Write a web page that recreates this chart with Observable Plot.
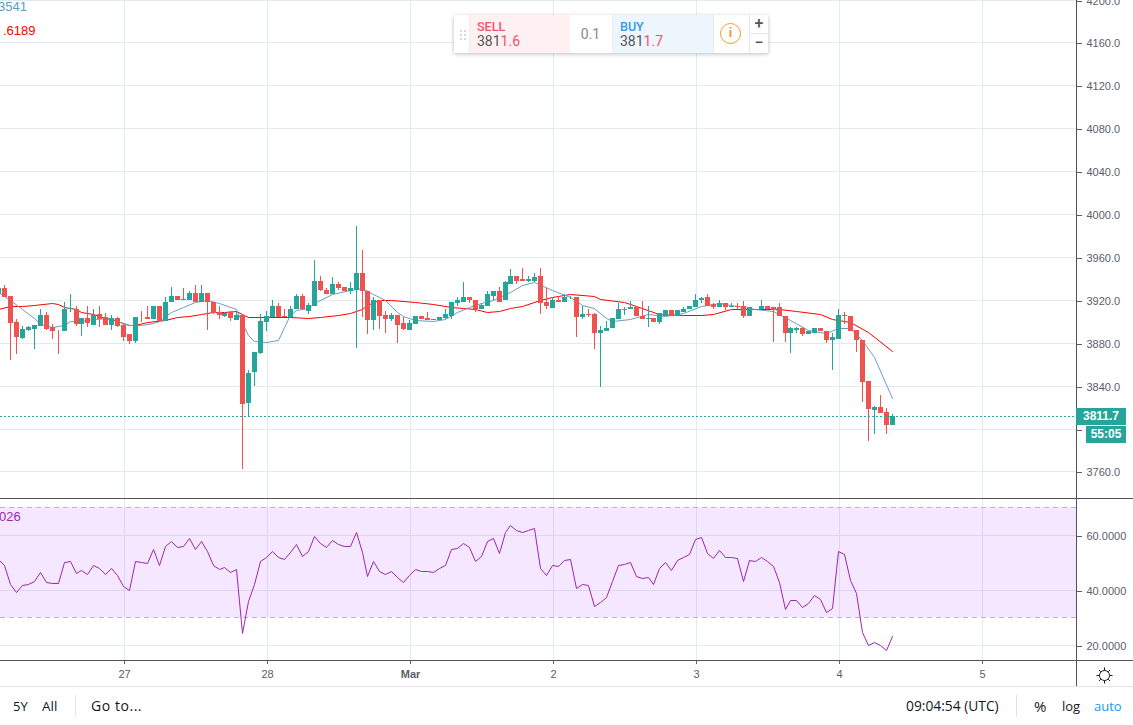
<!DOCTYPE html>
<html>
<head>
<meta charset="utf-8">
<script src="https://cdn.jsdelivr.net/npm/d3@7"></script>
<script src="https://cdn.jsdelivr.net/npm/@observablehq/plot@0.6"></script>
<style>
html,body{margin:0;padding:0;background:#fff;overflow:hidden}
#root{position:relative;width:1133px;height:725px;overflow:hidden;font-family:"Liberation Sans",Arial,sans-serif}
#root svg{position:absolute;left:0;background:transparent}
.abs{position:absolute;white-space:nowrap}
.line{position:absolute}
.tb{position:absolute;top:697px;font:13px "Open Sans",sans-serif;color:#131722;line-height:18px}
.w{position:absolute;top:15px;height:38px;box-sizing:border-box;font:14px/15px "Roboto",sans-serif}
</style>
</head>
<body>
<div id="root"></div>
<script>
// Hours counted from 27 Feb 00:00 UTC
const startHour = -21;
const missingHour = 106;
const opens = [
3925.0,3930.6,3924.0,3899.8,3884.8,3892.3,3893.2,3896.0,3906.3,3894.8,
3892.3,3891.4,3911.0,3911.0,3897.9,3903.5,3897.0,3907.2,3904.4,3897.0,
3903.5,3897.0,3888.6,3882.0,3904.4,3904.1,3902.6,3914.7,3900.7,3918.4,
3924.0,3921.2,3919.4,3926.8,3918.4,3926.8,3918.4,3909.1,3905.4,3909.1,
3901.6,3906.3,3824.2,3853.1,3870.8,3899.8,3904.4,3914.7,3905.4,3904.4,
3911.0,3924.0,3910.0,3914.7,3938.0,3929.6,3925.9,3935.2,3932.4,3928.7,
3929.6,3944.6,3927.8,3901.6,3919.4,3906.3,3902.6,3906.3,3898.8,3892.3,
3897.9,3905.4,3903.5,3902.6,3901.6,3903.5,3905.4,3917.5,3918.4,3923.1,
3920.3,3911.9,3914.7,3924.0,3928.7,3920.3,3935.2,3941.8,3939.0,3938.0,
3938.0,3942.7,3918.4,3912.8,3920.3,3918.4,3922.2,3923.1,3904.4,3907.2,
3907.2,3889.5,3891.4,3893.3,3902.6,3910.1,3911.0,3912.9,3905.4,3902.6,
3903.5,3899.8,3905.4,3910.1,3905.4,3909.1,3911.0,3912.9,3919.4,3923.1,
3915.7,3912.9,3917.5,3912.9,3914.7,3913.8,3904.5,null,3911.9,3914.7,
3912.9,3912.9,3905.4,3889.5,3892.3,3893.3,3888.6,3889.5,3893.3,3891.4,
3883.0,3883.9,3906.3,3904.5,3892.3,3883.0,3844.7,3817.6,3820.4,3815.8,3803.6];
const closes = [
3930.6,3923.1,3898.2,3885.1,3893.2,3894.5,3897.0,3906.3,3893.2,3891.4,
3891.7,3911.0,3912.8,3897.9,3903.5,3898.8,3906.3,3902.6,3897.0,3903.5,
3896.0,3885.8,3882.0,3904.4,3903.8,3902.6,3914.7,3900.7,3918.4,3924.0,
3919.4,3919.4,3926.8,3918.4,3926.8,3918.4,3908.2,3906.3,3908.2,3903.5,
3906.3,3823.2,3852.2,3871.8,3900.7,3905.4,3914.7,3904.4,3904.4,3911.9,
3924.0,3911.0,3915.6,3938.0,3929.6,3925.0,3935.2,3930.6,3928.7,3931.5,
3944.6,3927.8,3901.6,3919.4,3905.4,3902.6,3906.3,3897.0,3893.2,3898.8,
3905.4,3902.6,3901.6,3901.6,3904.4,3907.2,3918.4,3919.4,3923.1,3919.4,
3911.9,3915.6,3925.0,3928.7,3918.4,3936.2,3941.8,3938.0,3938.0,3939.0,
3940.9,3917.5,3913.8,3920.3,3918.4,3923.1,3923.1,3904.4,3907.2,3906.3,
3889.5,3892.3,3894.2,3903.5,3911.0,3911.9,3912.9,3904.5,3902.6,3903.5,
3899.8,3907.3,3910.1,3905.4,3910.1,3911.9,3913.8,3920.3,3921.3,3914.7,
3912.9,3917.5,3912.9,3914.7,3912.9,3904.5,3912.9,null,3914.7,3911.9,
3910.1,3904.5,3889.5,3893.3,3893.3,3888.6,3890.5,3893.3,3890.5,3883.0,
3885.8,3906.3,3904.5,3891.4,3882.1,3843.8,3818.6,3820.4,3814.8,3803.6,3811.7];
const highs = [
3933.4,3933.4,3924.0,3902.6,3896.0,3896.0,3897.0,3911.0,3908.8,3897.9,
3892.3,3918.4,3925.0,3913.8,3903.5,3914.7,3911.0,3913.8,3908.2,3906.3,
3904.4,3897.9,3888.6,3904.4,3910.0,3914.7,3914.7,3914.7,3922.2,3932.4,
3924.0,3930.6,3928.7,3933.4,3934.3,3926.8,3918.4,3914.7,3909.1,3910.0,
3910.0,3906.3,3855.0,3871.8,3907.2,3910.0,3920.3,3917.5,3911.0,3913.8,
3925.9,3925.0,3916.6,3956.7,3942.7,3931.5,3940.9,3937.1,3932.4,3937.1,
3988.5,3966.1,3927.8,3923.1,3919.4,3910.0,3908.2,3906.3,3904.4,3901.6,
3905.4,3905.4,3909.1,3902.6,3904.4,3911.0,3918.4,3923.1,3936.2,3923.1,
3920.3,3916.6,3927.8,3928.7,3932.4,3938.0,3948.3,3942.7,3949.3,3941.8,
3944.6,3949.3,3930.6,3923.1,3924.0,3925.9,3924.0,3923.1,3914.7,3911.9,
3908.2,3896.0,3900.7,3903.5,3917.5,3912.9,3918.5,3912.9,3918.5,3914.7,
3903.5,3908.2,3910.1,3910.1,3910.1,3912.9,3914.7,3925.0,3923.1,3925.0,
3917.5,3919.4,3917.5,3916.6,3916.6,3918.5,3912.9,null,3919.4,3914.7,
3912.9,3917.5,3905.4,3895.1,3895.1,3895.1,3891.4,3893.3,3893.3,3891.4,
3889.5,3911.9,3909.1,3904.5,3892.3,3883.0,3844.7,3821.4,3831.6,3819.5,3813.9];
const lows = [
3925.0,3923.1,3863.7,3869.9,3883.9,3890.7,3873.9,3896.0,3892.3,3883.9,
3869.9,3891.4,3909.1,3896.0,3886.7,3895.1,3897.0,3895.1,3897.0,3892.3,
3895.1,3882.0,3879.2,3880.2,3899.8,3902.6,3902.6,3899.8,3900.7,3918.4,
3919.4,3919.4,3919.4,3918.4,3918.4,3892.3,3907.2,3902.6,3904.4,3900.7,
3901.6,3761.9,3811.7,3840.0,3869.9,3891.4,3904.4,3904.4,3904.4,3904.4,
3911.0,3911.0,3907.2,3914.7,3928.7,3925.0,3925.9,3929.6,3928.7,3925.0,
3875.5,3904.4,3888.6,3892.3,3893.2,3889.5,3900.7,3880.2,3892.3,3892.3,
3897.9,3902.6,3901.6,3901.6,3901.6,3902.6,3902.6,3914.7,3918.4,3917.5,
3909.1,3911.9,3914.7,3920.3,3918.4,3920.3,3935.2,3935.2,3938.0,3937.1,
3936.2,3907.2,3911.0,3912.8,3918.4,3918.4,3921.2,3885.8,3902.6,3904.4,
3874.6,3839.1,3891.4,3893.3,3902.6,3906.3,3911.0,3904.5,3902.6,3895.1,
3899.8,3897.9,3905.4,3905.4,3905.4,3909.1,3911.0,3912.9,3917.5,3914.7,
3911.9,3912.9,3910.1,3912.9,3911.0,3903.5,3904.5,null,3911.9,3911.9,
3881.1,3904.5,3881.1,3870.8,3889.5,3886.7,3888.6,3889.5,3890.5,3880.2,
3855.0,3883.9,3897.9,3891.4,3871.8,3825.1,3788.7,3795.2,3814.8,3795.2,3803.6];
const rsiValues = [
51.1,49.0,42.2,39.4,41.9,42.2,43.3,46.5,43.0,42.6,
42.6,50.3,50.6,46.0,47.4,45.9,49.2,48.1,45.6,48.0,
45.3,41.3,40.1,50.6,50.3,49.9,54.9,48.9,55.9,57.9,
55.7,56.0,58.7,54.8,57.8,54.2,48.9,47.7,48.4,46.6,
47.7,24.4,35.9,42.0,50.6,52.1,54.3,51.9,51.4,53.8,
56.7,52.5,54.2,59.6,57.2,55.7,58.3,56.8,56.1,56.1,
60.9,53.6,45.2,50.5,46.7,45.9,47.0,44.6,42.9,45.3,
47.7,47.0,47.0,46.6,47.8,49.0,54.8,
55.4,57.2,55.6,50.6,52.2,57.7,59.0,53.3,61.2,63.6,
61.9,61.2,61.6,62.4,47.8,45.5,49.0,48.8,50.8,51.1,
40.8,42.2,41.9,34.3,35.7,37.3,43.2,49.2,49.5,50.3,
45.2,44.4,44.6,42.2,48.0,50.3,47.4,50.8,52.1,52.9,
58.5,59.4,53.4,51.7,54.5,51.9,51.9,51.7,43.3,51.0,
50.6,52.1,50.5,48.6,43.0,32.9,36.2,36.2,33.6,35.3,
38.2,36.8,32.0,33.5,54.2,53.0,43.5,38.7,24.7,20.0,
21.2,19.9,18.2,23.4];
const redHours = [-21,-19,-17,-15,-12,-11,-10,-8,-7,-6,-5,-3,-2,0,1,2,4,7,9,11,13,15,17,19,20,21,28,31,33,36,38,40,41,43,45,49,52,55,57,59,61,63,65,67,70,72,75,79,80,84,86,90,94,97,99,102,105,108,110,113,117,119,122,125,129];
const redValues = [3911.0,3913.8,3914.7,3915.6,3917.2,3916.0,3913.5,3911.3,3908.8,3907.6,3907.2,3903.2,3902.6,3898.2,3897.0,3897.0,3899.1,3901.0,3903.8,3905.4,3906.9,3908.8,3909.1,3910.0,3906.6,3904.1,3904.1,3903.2,3903.8,3905.7,3907.9,3911.0,3915.6,3919.4,3920.0,3918.1,3916.0,3913.5,3912.2,3911.0,3909.1,3909.7,3912.2,3914.7,3920.0,3922.2,3925.3,3923.4,3920.9,3917.8,3914.1,3907.2,3906.3,3906.3,3906.9,3911.0,3911.9,3911.9,3911.9,3909.4,3906.9,3902.3,3899.8,3889.8,3872.1];
const blueHours = [-21,-19,-17,-15,-14,-12,-10,-9,-7,-5,-2,-1,1,3,5,6,7,8,10,12,14,16,19,20,21,22,24,26,27,28,29,31,32,35,38,40,42,44,46,47,49,52,54,56,58,60,62,65,67,69,72,75,77,79,81,82,85,88,91,94,97,100,103,106,109,112,115,118,120,122,124,126,129];
const blueValues = [3927.2,3920.3,3911.0,3903.2,3897.9,3894.5,3897.0,3900.4,3900.7,3902.6,3903.2,3900.1,3896.7,3897.0,3898.5,3900.7,3904.8,3908.5,3913.5,3918.1,3920.3,3917.2,3911.9,3898.5,3887.6,3881.4,3880.8,3883.0,3894.8,3906.3,3910.4,3912.5,3917.2,3925.9,3929.0,3930.6,3925.0,3919.4,3909.1,3904.8,3901.6,3900.4,3902.6,3909.1,3913.2,3917.2,3920.0,3927.2,3933.7,3936.5,3929.0,3922.5,3915.6,3912.2,3903.2,3900.1,3902.6,3906.9,3905.1,3907.9,3914.7,3916.6,3914.7,3911.9,3909.4,3901.6,3892.3,3889.2,3893.9,3893.9,3883.0,3866.8,3828.2];
const priceTicks = [4200,4160,4120,4080,4040,4000,3960,3920,3880,3840,3800,3760];
const hiddenPriceLabel = 3800; // covered by the price tag in the reference
const rsiTicks = [60,40,20];
const rsiBand = [30,70];
const dayHours = [0,24,48,72,96,120,144];
const dayLabels = ["27","28","Mar","2","3","4","5"];
const lastPrice = 3811.7;

const C = {up:"#26a69a",down:"#ef5350",grid:"#e1ecf2",axis:"#50535e",red:"#ff0000",blue:"#6a9ec4",rsi:"#9c27b0",dash:"#c3b0cf",text:"#5a5e68"};
const root = document.getElementById("root");
const allHours = d3.range(startHour, startHour + opens.length);
const candles = allHours.map((h,i)=>({h,open:opens[i],close:closes[i],high:highs[i],low:lows[i]})).filter(d=>d.h!==missingHour);
const up = candles.filter(d=>d.close>=d.open), down = candles.filter(d=>d.close<d.open);
const bodyMarks = (data,stroke)=>[
  Plot.ruleX(data,{x:"h",y1:"low",y2:"high",stroke,strokeWidth:1}),
  Plot.ruleX(data,{x:"h",y1:"open",y2:"close",stroke,strokeWidth:5})
];
const xScale = {domain:[-20.678,159.92],range:[0,1076],round:true};
const fontStyle = {background:"transparent",fontFamily:'"Liberation Sans",Arial,sans-serif',color:C.text,overflow:"hidden"};

const main = Plot.plot({
  width:1133,height:498,marginLeft:0,marginRight:57,marginTop:0,marginBottom:0,
  style:fontStyle,
  x:{...xScale,axis:null},
  y:{domain:[3735.24,4199.58],range:[498,0],round:true,axis:null},
  marks:[
    Plot.ruleY(priceTicks,{stroke:C.grid,strokeWidth:1}),
    Plot.ruleX(dayHours,{stroke:C.grid,strokeWidth:1,dx:1}),
    Plot.line(redHours.map((h,i)=>({h,v:redValues[i]})),{x:"h",y:"v",stroke:C.red,strokeWidth:1}),
    Plot.line(blueHours.map((h,i)=>({h,v:blueValues[i]})),{x:"h",y:"v",stroke:C.blue,strokeWidth:1}),
    ...bodyMarks(down,C.down),
    ...bodyMarks(up,C.up),
    Plot.ruleY([lastPrice],{stroke:C.up,strokeWidth:1,strokeDasharray:"2 2"}),
    Plot.axisY(priceTicks,{anchor:"right",tickSize:5,tickPadding:5,fontSize:11,dy:1,tickFormat:d=>d===hiddenPriceLabel?"":d.toFixed(1),label:null})
  ]
});
main.style.top="0px";
root.appendChild(main);

const rsi = Plot.plot({
  width:1133,height:189,marginLeft:0,marginRight:57,marginTop:1,marginBottom:27,
  style:fontStyle,
  x:{...xScale,axis:null},
  y:{domain:[14.51,73.05],range:[162,1],round:true,axis:null},
  marks:[
    Plot.ruleY(rsiTicks,{stroke:C.grid,strokeWidth:1}),
    Plot.ruleX(dayHours,{stroke:C.grid,strokeWidth:1,dx:1}),
    Plot.rect([rsiBand],{y1:d=>d[0],y2:d=>d[1],fill:"#9915ff",fillOpacity:0.1}),
    Plot.ruleY(rsiBand,{stroke:C.dash,strokeWidth:1,strokeDasharray:"5 4"}),
    Plot.line(allHours.map((h,i)=>({h,v:rsiValues[i]})),{x:"h",y:"v",stroke:C.rsi,strokeWidth:1}),
    Plot.axisY(rsiTicks,{anchor:"right",tickSize:5,tickPadding:5,fontSize:11,dy:1,tickFormat:d=>d.toFixed(4),label:null}),
    Plot.axisX(dayHours,{anchor:"bottom",tickSize:4,tickPadding:6,fontSize:11,dx:1,tickFormat:d=>dayLabels[dayHours.indexOf(d)],label:null})
  ]
});
rsi.style.top="498px";
root.appendChild(rsi);
d3.select(rsi).selectAll("text").filter(function(){return this.textContent==="Mar"}).style("font-weight","bold");

function el(html){const t=document.createElement("template");t.innerHTML=html.trim();const n=t.content.firstChild;root.appendChild(n);return n}
// pane borders
el('<div class="line" style="left:0;top:498px;width:1133px;height:1px;background:#50535e"></div>');
el('<div class="line" style="left:0;top:660px;width:1133px;height:1px;background:#50535e"></div>');
el('<div class="line" style="left:1076px;top:0;width:1px;height:686px;background:#50535e"></div>');
el('<div class="line" style="left:0;top:686px;width:1133px;height:1px;background:#e0e3eb"></div>');
// legend fragments
el('<div class="abs" style="left:-2px;top:-1px;font:13px/16px \'Liberation Sans\',sans-serif;color:#5b9cc4">3541</div>');
el('<div class="abs" style="left:3px;top:23px;font:13px/16px \'Liberation Sans\',sans-serif;color:#f00">.6189</div>');
el('<div class="abs" style="left:-1px;top:509px;font:13px/16px \'Liberation Sans\',sans-serif;color:#9c27b0">026</div>');
// price labels
el('<div class="abs" style="left:1076px;top:408px;width:50px;height:17px;background:#26a69a;color:#fff;font:bold 12px/17px \'Liberation Sans\',sans-serif;text-align:center">3811.7</div>');
el('<div class="abs" style="left:1086px;top:426px;width:40px;height:17px;background:#26a69a;color:#fff;font:bold 12px/17px \'Liberation Sans\',sans-serif;text-align:center">55:05</div>');
// trade widget
el('<div class="abs" style="left:454px;top:15px;width:314px;height:38px;background:#fff;box-shadow:0 1px 4px rgba(60,70,90,.35)"></div>');
el('<div class="abs" style="left:459px;top:29px;width:8px;height:11px;background-image:radial-gradient(circle,#d5d8dc 1.1px,transparent 1.2px);background-size:4px 4px"></div>');
el('<div class="w" style="left:469px;width:101px;background:#fff0f2;border-left:1px solid #eceef0;padding:4px 0 0 7px"><div style="font-weight:500;font-size:12.5px;color:#f7526b">SELL</div><div style="color:#555;font-size:14px">381<span style="color:#f7526b">1.6</span></div></div>');
el('<div class="w" style="left:569px;width:43px;text-align:center;line-height:38px;color:#8a8a8a;font-size:14px">0.1</div>');
el('<div class="w" style="left:612px;width:101px;background:#edf5fd;border-left:1px solid #eceef0;padding:4px 0 0 7px"><div style="font-weight:500;font-size:12.5px;color:#2f9bee">BUY</div><div style="color:#555;font-size:14px">381<span style="color:#f7526b">1.7</span></div></div>');
el('<div class="w" style="left:713px;width:37px;border-left:1px solid #e6e8ea"></div>');
el('<div class="abs" style="left:720px;top:23px;width:21px;height:21px;border:1.5px solid #f59a23;border-radius:50%;box-sizing:border-box;color:#f59a23;font:bold 13px/18px \'Roboto\',sans-serif;text-align:center">i</div>');
el('<div class="w" style="left:749px;width:19px;height:19px;border-left:1px solid #e6e8ea;border-bottom:1px solid #e6e8ea;text-align:center;line-height:18px;font-size:16px;font-weight:500;color:#555">+</div>');
el('<div class="w" style="left:749px;top:34px;width:19px;height:19px;border-left:1px solid #e6e8ea;text-align:center;line-height:18px;font-size:16px;font-weight:500;color:#555">−</div>');
// toolbar
const tb=(x,t,c,extra)=>el(`<div class="tb" style="left:${x}px;color:${c||"#131722"};${extra||""}">${t}</div>`);
tb(13,"5Y");tb(42,"All","","font-size:13.5px");tb(91,"Go to...","","font-size:14px;letter-spacing:.55px");tb(906,"09:04:54 (UTC)","","font-size:13.8px");tb(1034,"%","","font-size:15px");tb(1062,"log");tb(1094,"auto","#2196f3");
el('<div class="line" style="left:75px;top:695px;width:1px;height:22px;background:#e0e3eb"></div>');
el('<div class="line" style="left:1016px;top:695px;width:1px;height:22px;background:#e0e3eb"></div>');
// settings gear
el('<svg style="left:1096px;top:667px" width="17" height="17" viewBox="0 0 17 17"><circle cx="8.5" cy="8.5" r="5" fill="none" stroke="#131722" stroke-width="1"/><g stroke="#131722" stroke-width="1"><path d="M8.5 0.5v3M8.5 13.5v3M0.5 8.5h2.5M14 8.5h2.5M3 3l1.8 1.8M14 3l-1.8 1.8M3 14l1.8-1.8M14 14l-1.8-1.8"/></g></svg>');
</script>
</body>
</html>
